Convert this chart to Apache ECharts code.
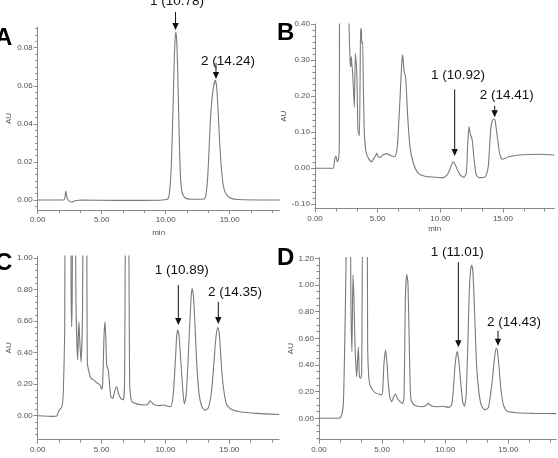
<!DOCTYPE html>
<html><head><meta charset="utf-8">
<script src="https://cdn.jsdelivr.net/npm/echarts@6/dist/echarts.min.js"></script>
<style>html,body{margin:0;padding:0;background:#fff;overflow:hidden}#c{width:558px;height:458px}</style>
</head><body><div id="c"></div>
<script>
// ---------- DATA ----------
const panelLetters = ['A', 'B', 'C', 'D'];
const xTickValues = [0, 5, 10, 15];
const yTicksA = [0, 0.02, 0.04, 0.06, 0.08];
const yTicksB = [-0.1, 0, 0.1, 0.2, 0.3, 0.4];
const yTicksC = [0, 0.2, 0.4, 0.6, 0.8, 1.0];
const yTicksD = [0, 0.2, 0.4, 0.6, 0.8, 1.0, 1.2];

const traceA = [[0,0],[2.0,0],[2.12,0.001],[2.19,0.0047],[2.3,0.001],[2.45,-0.0005],[2.65,-0.0012],[2.9,-0.0004],[3.5,0],[6,-0.0002],[9.5,-0.0001],[10.15,0.0005],[10.3,0.004],[10.45,0.02],[10.58,0.05],[10.68,0.076],[10.78,0.0884],[10.86,0.084],[10.95,0.065],[11.05,0.035],[11.15,0.013],[11.28,0.004],[11.5,0.0012],[12,0.0004],[13.0,0.0005],[13.15,0.003],[13.3,0.014],[13.45,0.036],[13.6,0.052],[13.75,0.06],[13.88,0.063],[14.0,0.058],[14.13,0.042],[14.27,0.024],[14.45,0.01],[14.65,0.004],[15.0,0.0012],[15.6,0.0003],[18.9,0]];

const traceB = [[0,0],[1.45,0],[1.52,0.01],[1.6,0.03],[1.68,0.033],[1.78,0.018],[1.89,0.028],[1.94,0.06],[2.0,0.9],[2.6,0.9],[2.72,0.4],[2.8,0.3],[2.85,0.282],[2.9,0.31],[2.95,0.285],[2.98,0.278],[3.06,0.227],[3.14,0.169],[3.22,0.319],[3.27,0.3],[3.3,0.292],[3.35,0.25],[3.43,0.106],[3.54,0.09],[3.6,0.25],[3.64,0.389],[3.7,0.384],[3.74,0.347],[3.8,0.352],[3.86,0.227],[3.94,0.097],[4.07,0.046],[4.26,0.028],[4.52,0.018],[4.71,0.028],[4.85,0.036],[4.92,0.042],[5.05,0.032],[5.19,0.03],[5.4,0.037],[5.77,0.04],[6.12,0.034],[6.38,0.032],[6.57,0.06],[6.78,0.19],[6.92,0.29],[7.0,0.315],[7.1,0.273],[7.24,0.25],[7.4,0.143],[7.58,0.06],[7.85,0.014],[8.25,-0.014],[8.78,-0.022],[9.3,-0.024],[10.2,-0.026],[10.55,-0.018],[10.75,-0.005],[10.9,0.01],[11.04,0.018],[11.2,0.01],[11.36,-0.004],[11.6,-0.019],[11.9,-0.025],[12.08,-0.012],[12.18,0.06],[12.29,0.116],[12.36,0.102],[12.42,0.092],[12.5,0.086],[12.58,0.07],[12.7,0.023],[12.88,-0.019],[13.1,-0.026],[13.6,-0.023],[13.83,0.005],[14.02,0.106],[14.15,0.132],[14.27,0.137],[14.37,0.134],[14.55,0.088],[14.74,0.041],[14.95,0.025],[15.45,0.032],[16.3,0.037],[17.9,0.039],[19.1,0.037]];

const traceC = [[0,0],[1.2,-0.004],[1.49,-0.002],[1.6,0.02],[1.69,0.036],[1.9,0.057],[2.01,0.163],[2.11,0.523],[2.2,1.5],[2.55,1.5],[2.62,0.75],[2.66,0.564],[2.7,0.75],[2.76,1.5],[2.92,1.5],[3.0,0.7],[3.13,0.353],[3.2,0.55],[3.23,0.596],[3.28,0.5],[3.39,0.34],[3.5,0.6],[3.6,1.5],[3.8,1.5],[3.89,0.332],[4.04,0.269],[4.17,0.237],[4.41,0.226],[4.62,0.209],[4.88,0.195],[5.01,0.167],[5.09,0.205],[5.19,0.501],[5.27,0.596],[5.33,0.5],[5.4,0.321],[5.53,0.29],[5.72,0.12],[5.87,0.11],[6.05,0.163],[6.19,0.184],[6.32,0.142],[6.5,0.11],[6.7,0.1],[6.8,0.205],[6.91,1.5],[7.08,1.5],[7.2,0.2],[7.28,0.12],[7.36,0.089],[7.75,0.075],[8.4,0.068],[8.65,0.075],[8.79,0.095],[9.05,0.074],[9.44,0.063],[9.84,0.068],[10.1,0.062],[10.42,0.057],[10.62,0.142],[10.78,0.353],[10.88,0.501],[10.96,0.543],[11.07,0.501],[11.2,0.353],[11.36,0.163],[11.48,0.075],[11.61,0.12],[11.74,0.29],[11.87,0.523],[12.0,0.734],[12.08,0.808],[12.19,0.765],[12.32,0.564],[12.45,0.332],[12.63,0.14],[12.84,0.06],[13.1,0.035],[13.36,0.05],[13.62,0.163],[13.81,0.353],[13.96,0.501],[14.1,0.56],[14.22,0.523],[14.35,0.353],[14.53,0.184],[14.8,0.07],[15.19,0.04],[15.84,0.025],[17.15,0.015],[18.9,0.008]];

const traceD = [[0,0],[1.61,0],[1.8,0.025],[1.93,0.112],[2.03,0.512],[2.14,1.137],[2.2,1.6],[2.44,1.6],[2.54,0.762],[2.61,0.5],[2.69,1.075],[2.77,0.887],[2.85,0.562],[2.98,0.312],[3.12,0.537],[3.2,0.312],[3.3,0.3],[3.38,0.337],[3.5,1.6],[3.78,1.6],[3.86,0.512],[3.94,0.312],[4.04,0.25],[4.25,0.212],[4.52,0.187],[4.83,0.18],[4.97,0.175],[5.05,0.212],[5.15,0.412],[5.28,0.512],[5.39,0.412],[5.49,0.262],[5.63,0.15],[5.76,0.125],[5.94,0.167],[6.07,0.182],[6.2,0.15],[6.42,0.125],[6.63,0.112],[6.74,0.162],[6.84,0.887],[6.95,1.08],[7.05,1.012],[7.16,0.512],[7.26,0.162],[7.42,0.112],[7.74,0.092],[8.27,0.087],[8.53,0.1],[8.66,0.112],[8.93,0.092],[9.32,0.087],[9.85,0.09],[10.25,0.082],[10.51,0.1],[10.64,0.212],[10.75,0.362],[10.86,0.462],[10.96,0.5],[11.07,0.437],[11.23,0.262],[11.38,0.125],[11.52,0.09],[11.65,0.162],[11.78,0.512],[11.91,0.962],[12.02,1.125],[12.1,1.15],[12.2,1.087],[12.34,0.762],[12.49,0.387],[12.68,0.187],[12.89,0.09],[13.15,0.065],[13.42,0.08],[13.6,0.187],[13.76,0.312],[13.89,0.437],[14.03,0.525],[14.13,0.512],[14.26,0.387],[14.42,0.212],[14.61,0.1],[14.87,0.055],[15.66,0.042],[16.98,0.037],[18.8,0.035]];

// peak annotations: label, retention (arrow x), arrow tip value
const peakLabelsA = ['1 (10.78)', '2 (14.24)'];
const peakTimesA = [10.77, 13.93];
const peakTipsA = [0.0893, 0.0636];
const peakLabelsB = ['1 (10.92)', '2 (14.41)'];
const peakTimesB = [11.15, 14.34];
const peakTipsB = [0.034, 0.142];
const peakLabelsC = ['1 (10.89)', '2 (14.35)'];
const peakTimesC = [11.01, 14.14];
const peakTipsC = [0.575, 0.581];
const peakLabelsD = ['1 (11.01)', '2 (14.43)'];
const peakTimesD = [11.04, 14.18];
const peakTipsD = [0.533, 0.545];

// ---------- LAYOUT / STYLE ----------
const FONT = 'Arial, "Liberation Sans", sans-serif';
const AXIS = '#8a8a8a', LABEL = '#505050', TRACE = '#7a7a7a';
const layout = [
  {left:37.7, top:27, width:241.9, height:183, xMax:18.9, yMin:-0.00525, yMax:0.0909, yMinor:0.02/6, nameGapX:19, nameGapY:22,
   letter:[-5, 38], arrows:[{len:18, dx:1.5, dy:-11}, {len:16, dx:12, dy:-2}]},
  {left:315, top:24, width:239.3, height:184.5, xMax:19.1, yMin:-0.1117, yMax:0.4008, yMinor:0.1/6, nameGapX:16, nameGapY:22,
   letter:[277, 33], arrows:[{len:66.7, dx:3.3, dy:-14.3}, {len:11.3, dx:12, dy:-11}]},
  {left:37.7, top:256, width:241.4, height:183.7, xMax:18.9, yMin:-0.152, yMax:1.013, yMinor:0.04, nameGapX:19, nameGapY:22,
   letter:[-5, 263], arrows:[{len:40, dx:3.4, dy:-15}, {len:22.3, dx:16.7, dy:-10}]},
  {left:319, top:257.5, width:237.3, height:182.2, xMax:18.8, yMin:-0.1605, yMax:1.206, yMinor:0.05, nameGapX:17, nameGapY:24,
   letter:[277, 258], arrows:[{len:85, dx:-1, dy:-10}, {len:15, dx:16, dy:-8.4}]}
];

const panels = [
  {trace:traceA, yTicks:yTicksA, labels:peakLabelsA, times:peakTimesA, tips:peakTipsA},
  {trace:traceB, yTicks:yTicksB, labels:peakLabelsB, times:peakTimesB, tips:peakTipsB},
  {trace:traceC, yTicks:yTicksC, labels:peakLabelsC, times:peakTimesC, tips:peakTipsC},
  {trace:traceD, yTicks:yTicksD, labels:peakLabelsD, times:peakTimesD, tips:peakTipsD}
];

const chart = echarts.init(document.getElementById('c'), null, {renderer:'canvas', width:558, height:458});
const grid = [], xAxis = [], yAxis = [], series = [];
layout.forEach((L, i) => {
  const P = panels[i];
  grid.push({left:L.left, top:L.top, width:L.width, height:L.height, containLabel:false, outerBoundsMode:'none'});
  const minorX = [];
  for (let k = 0; k * 5 / 3 <= L.xMax + 1e-9; k++) { if (k % 3) minorX.push(k * 5 / 3); }
  const minorY = [];
  for (let k = Math.ceil(L.yMin / L.yMinor - 1e-9); k * L.yMinor <= L.yMax + 1e-9; k++) minorY.push(k * L.yMinor);
  xAxis.push({gridIndex:i, type:'value', min:0, max:L.xMax, position:'bottom',
    axisLine:{show:true, onZero:false, lineStyle:{color:AXIS, width:1}},
    axisTick:{show:true, customValues:xTickValues, length:4, lineStyle:{color:AXIS}},
    axisLabel:{customValues:xTickValues, formatter:v => v.toFixed(2), fontSize:8, color:LABEL, margin:6, fontFamily:FONT},
    splitLine:{show:false}, name:'min', nameLocation:'middle', nameGap:L.nameGapX,
    nameTextStyle:{fontSize:8, color:LABEL, fontFamily:FONT}});
  xAxis.push({gridIndex:i, type:'value', min:0, max:L.xMax, position:'bottom',
    axisLine:{show:false, onZero:false}, axisTick:{show:true, customValues:minorX, length:3, lineStyle:{color:AXIS}},
    axisLabel:{show:false}, splitLine:{show:false}});
  yAxis.push({gridIndex:i, type:'value', min:L.yMin, max:L.yMax, position:'left',
    axisLine:{show:true, onZero:false, lineStyle:{color:AXIS, width:1}},
    axisTick:{show:true, customValues:P.yTicks, length:4, lineStyle:{color:AXIS}},
    axisLabel:{customValues:P.yTicks, formatter:v => v.toFixed(2), fontSize:8, color:LABEL, margin:5, fontFamily:FONT},
    splitLine:{show:false}, name:'AU', nameLocation:'middle', nameGap:L.nameGapY,
    nameTextStyle:{fontSize:8, color:LABEL, fontFamily:FONT}});
  yAxis.push({gridIndex:i, type:'value', min:L.yMin, max:L.yMax, position:'left',
    axisLine:{show:false, onZero:false}, axisTick:{show:true, customValues:minorY, length:2.5, lineStyle:{color:AXIS}},
    axisLabel:{show:false}, splitLine:{show:false}});
  series.push({type:'line', xAxisIndex:2 * i, yAxisIndex:2 * i, data:P.trace, showSymbol:false, symbol:'none',
    smooth:0.2, clip:true, silent:true, lineStyle:{color:TRACE, width:1.1}});
});

chart.setOption({animation:false, backgroundColor:'#fff', grid, xAxis, yAxis, series});

const g = [];
panels.forEach((P, i) => {
  const L = layout[i];
  g.push({type:'text', x:L.letter[0], y:L.letter[1], z:10,
    style:{text:panelLetters[i], fill:'#000', font:'bold 24px ' + FONT, textAlign:'left', textVerticalAlign:'middle', align:'left', verticalAlign:'middle'}});
  P.labels.forEach((lab, j) => {
    const pt = chart.convertToPixel({seriesIndex:i}, [P.times[j], P.tips[j]]);
    const A = L.arrows[j];
    const px = pt[0], py = pt[1], top = py - A.len;
    g.push({type:'line', z:10, shape:{x1:px, y1:top, x2:px, y2:py - 5}, style:{stroke:'#111', lineWidth:1}});
    g.push({type:'polygon', z:10, shape:{points:[[px - 3.2, py - 7], [px + 3.2, py - 7], [px, py]]}, style:{fill:'#111'}});
    g.push({type:'text', z:10, x:px + A.dx, y:top + A.dy,
      style:{text:lab, fill:'#111', font:'13.5px ' + FONT, textAlign:'center', textVerticalAlign:'middle', align:'center', verticalAlign:'middle'}});
  });
});
chart.setOption({graphic:g});
</script>
</body></html>
